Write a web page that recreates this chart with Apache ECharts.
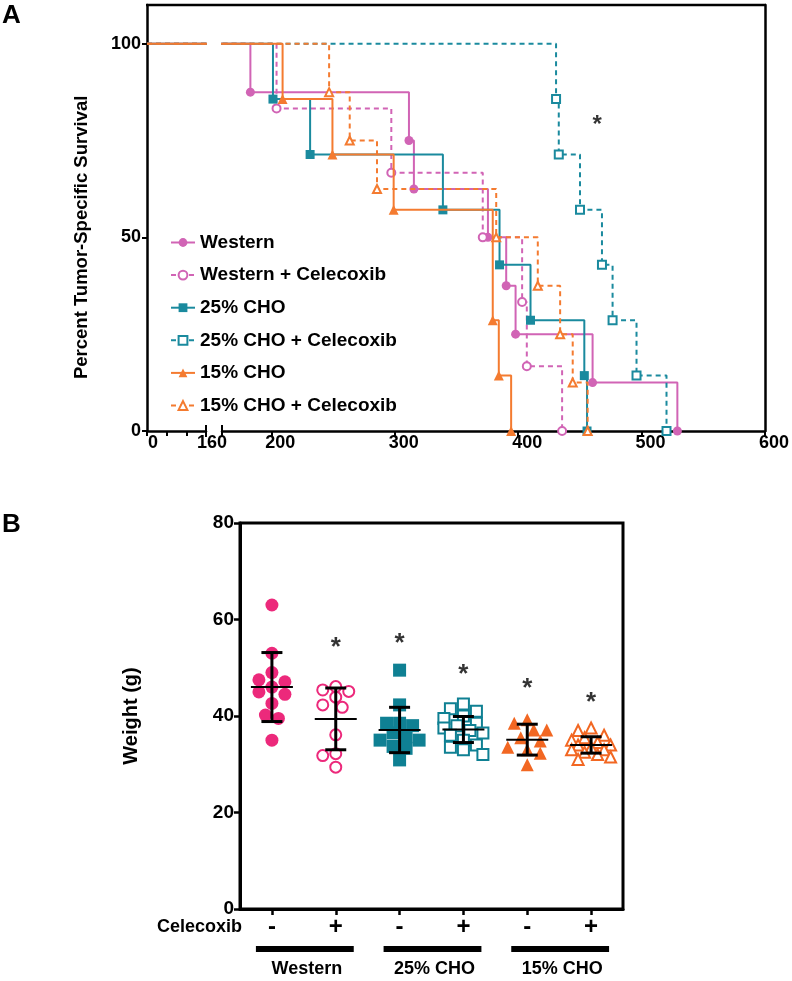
<!DOCTYPE html>
<html><head><meta charset="utf-8">
<script src="https://cdn.jsdelivr.net/npm/echarts@6/dist/echarts.min.js"></script>
<style>html,body{margin:0;padding:0;background:#fff}#c{width:792px;height:981px}</style>
</head><body><div id="c"></div><script>
// ---------- Panel A data (Kaplan-Meier) ----------
const kmNames = ['Western', 'Western + Celecoxib', '25% CHO', '25% CHO + Celecoxib', '15% CHO', '15% CHO + Celecoxib'];
const westernTimes = [183, 311.5, 315.5, 375.5, 390.3, 397.9, 460.3, 529];
const westernSurv = [87.5, 75, 62.5, 50, 37.5, 25, 12.5, 0];
const westernCelTimes = [204.2, 297.2, 371.3, 403.2, 407, 435.6];
const westernCelSurv = [83.3, 66.7, 50, 33.3, 16.7, 0];
const cho25Times = [201.3, 231.4, 339, 384.9, 410, 453.6, 455.8];
const cho25Surv = [85.7, 71.4, 57.1, 42.9, 28.6, 14.3, 0];
const cho25CelTimes = [430.7, 432.9, 450.1, 467.9, 476.5, 495.9, 520.2];
const cho25CelSurv = [85.7, 71.4, 57.1, 42.9, 28.6, 14.3, 0];
const cho15Times = [209.1, 249.5, 299.1, 379.4, 384.3, 394.3];
const cho15Surv = [85.7, 71.4, 57.1, 28.6, 14.3, 0];
const cho15CelTimes = [246.8, 263.5, 285.6, 382.2, 415.9, 434, 444.2, 456.3];
const cho15CelSurv = [87.5, 75, 62.5, 50, 37.5, 25, 12.5, 0];
const kmStart = [0, 100];
const axisATicksLeft = [0, 160 / 3, 320 / 3];
const axisALabelsLeft = [0, 160];
const axisATicksRight = [200, 300, 400, 500, 600];
const axisAYTicks = [0, 50, 100];
const starA = [[464, 79]];

// ---------- Panel B data (weights) ----------
const weightGroups = ['Western -', 'Western +', '25% CHO -', '25% CHO +', '15% CHO -', '15% CHO +'];
const celecoxibLabels = ['-', '+', '-', '+', '-', '+'];
const dietGroups = ['Western', '25% CHO', '15% CHO'];
const wWestern = [63, 53, 49, 47.5, 47.1, 46, 45, 44.5, 42.6, 40.2, 39.5, 35];
const wWesternCel = [45.4, 46.1, 45.1, 43.9, 42.3, 41.8, 36.1, 32.2, 31.8, 29.4];
const wCho25 = [49.5, 42.3, 38, 38.5, 38.5, 36.5, 35, 35.7, 35, 33.7, 33.3, 30.9];
const wCho25Cel = [42.5, 41.5, 41, 40, 39.5, 38.5, 38, 37.5, 37, 36.5, 36, 35, 34, 33.5, 33, 32];
const wCho15 = [39.2, 38.5, 37.1, 37.1, 35.5, 34.8, 33.5, 33, 32.3, 29.9];
const wCho15Cel = [37.5, 37, 36, 35.5, 35, 34.5, 34, 34, 33.5, 33, 33, 32.5, 32, 31.5, 31];
const meanW = [46.0, 39.4, 37.1, 37.2, 35.1, 34.0];
const sdW = [7.15, 6.4, 4.7, 2.7, 3.2, 1.7];
const starB = [null, 54.2, 55.0, 48.5, 45.7, 42.7];

const FF = 'Liberation Sans, Arial, Helvetica, sans-serif';
const A_PINK = '#D164B5', A_TEAL = '#1A8A9E', A_ORANGE = '#F47B30';
const B_PINK = '#EC297B', B_TEAL = '#0F8093', B_ORANGE = '#F26722';

const kmDefs = [
  {t: westernTimes, s: westernSurv, color: A_PINK, symbol: 'circle', dash: false},
  {t: westernCelTimes, s: westernCelSurv, color: A_PINK, symbol: 'emptyCircle', dash: true},
  {t: cho25Times, s: cho25Surv, color: A_TEAL, symbol: 'rect', dash: false},
  {t: cho25CelTimes, s: cho25CelSurv, color: A_TEAL, symbol: 'emptyRect', dash: true},
  {t: cho15Times, s: cho15Surv, color: A_ORANGE, symbol: 'triangle', dash: false},
  {t: cho15CelTimes, s: cho15CelSurv, color: A_ORANGE, symbol: 'emptyTriangle', dash: true}
];
const drawOrder = [0, 1, 2, 3, 5, 4];

function kmData(d) {
  return [{value: kmStart.slice(), symbol: 'none'}].concat(d.t.map((x, i) => ({value: [x, d.s[i]]})));
}

const series = [];
[0, 1].forEach(g => {
  drawOrder.forEach((k, zi) => {
    const d = kmDefs[k];
    series.push({
      type: 'line', name: kmNames[k], xAxisIndex: g, yAxisIndex: g,
      data: kmData(d), step: 'end', symbol: d.symbol,
      symbolSize: d.symbol.indexOf('empty') === 0 ? 8 : (d.symbol === 'triangle' ? 10 : 9),
      showSymbol: true, clip: true, z: 2 + zi,
      lineStyle: {color: d.color, width: 2, type: d.dash ? [5, 4] : 'solid'},
      itemStyle: {color: d.color, borderColor: d.color, borderWidth: d.symbol.indexOf('empty') === 0 ? 2 : 0},
      emphasis: {disabled: true}
    });
  });
});
series.push({
  type: 'scatter', xAxisIndex: 1, yAxisIndex: 1, data: starA, symbolSize: 1,
  itemStyle: {color: 'rgba(0,0,0,0)'},
  label: {show: true, position: 'inside', formatter: '*', fontSize: 24, fontWeight: 'bold', color: '#000', fontFamily: FF}
});

const bDefs = [
  {v: wWestern, color: B_PINK, symbol: 'circle'},
  {v: wWesternCel, color: B_PINK, symbol: 'emptyCircle'},
  {v: wCho25, color: B_TEAL, symbol: 'rect'},
  {v: wCho25Cel, color: B_TEAL, symbol: 'emptyRect'},
  {v: wCho15, color: B_ORANGE, symbol: 'triangle'},
  {v: wCho15Cel, color: B_ORANGE, symbol: 'emptyTriangle'}
];
const bSeriesStart = series.length;
bDefs.forEach((d, i) => {
  const empty = d.symbol.indexOf('empty') === 0;
  series.push({
    type: 'scatter', xAxisIndex: 2, yAxisIndex: 2,
    data: d.v.map(v => ({value: [i, v]})),
    symbol: d.symbol, symbolSize: empty ? 11 : 13,
    itemStyle: {color: d.color, borderColor: d.color, borderWidth: empty ? 2.5 : 0, opacity: 1},
    z: 3
  });
});
series.push({
  type: 'custom', xAxisIndex: 2, yAxisIndex: 2, z: 10,
  data: meanW.map((m, i) => [i, m, sdW[i]]),
  renderItem: function (params, api) {
    const i = api.value(0), m = api.value(1), s = api.value(2);
    const c = api.coord([i, m]), hi = api.coord([i, m + s]), lo = api.coord([i, m - s]);
    const st = {stroke: '#000', lineWidth: 3};
    return {type: 'group', children: [
      {type: 'line', shape: {x1: c[0] - 21, y1: c[1], x2: c[0] + 21, y2: c[1]}, style: {stroke: '#000', lineWidth: 2}},
      {type: 'line', shape: {x1: c[0], y1: hi[1], x2: c[0], y2: lo[1]}, style: st},
      {type: 'line', shape: {x1: c[0] - 10.5, y1: hi[1], x2: c[0] + 10.5, y2: hi[1]}, style: st},
      {type: 'line', shape: {x1: c[0] - 10.5, y1: lo[1], x2: c[0] + 10.5, y2: lo[1]}, style: st}
    ]};
  }
});
series.push({
  type: 'scatter', xAxisIndex: 2, yAxisIndex: 2, z: 11,
  data: starB.map((v, i) => v == null ? null : [i, v]).filter(x => x),
  symbolSize: 1, itemStyle: {color: 'rgba(0,0,0,0)'},
  label: {show: true, position: 'inside', formatter: '*', fontSize: 26, fontWeight: 'bold', color: '#000', fontFamily: FF}
});

const lblStyle = {fontFamily: FF, fontWeight: 'bold', color: '#000', fontSize: 18};
const option = {
  animation: false,
  backgroundColor: '#fff',
  textStyle: {fontFamily: FF},
  legend: {
    orient: 'vertical', left: 165, top: 227, itemWidth: 24, itemHeight: 11, itemGap: 11.6,
    data: kmNames, selectedMode: false,
    textStyle: {fontFamily: FF, fontWeight: 'bold', fontSize: 19, color: '#000', lineHeight: 21}
  },
  grid: [
    {left: 147, top: 5, width: 59, height: 426},
    {left: 222, top: 5, width: 544, height: 426},
    {left: 240, top: 523, width: 383, height: 386, show: true, borderColor: '#000', borderWidth: 3}
  ],
  xAxis: [
    {gridIndex: 0, type: 'value', min: 0, max: 160,
      axisLine: {show: true, onZero: false, lineStyle: {color: '#000', width: 2.5}},
      axisTick: {show: true, length: 5, lineStyle: {color: '#000', width: 2}, customValues: axisATicksLeft},
      axisLabel: Object.assign({customValues: axisALabelsLeft, margin: 3, padding: [0, 0, 0, 12]}, lblStyle),
      splitLine: {show: false}},
    {gridIndex: 1, type: 'value', min: 160, max: 600,
      axisLine: {show: true, onZero: false, lineStyle: {color: '#000', width: 2.5}},
      axisTick: {show: true, length: 5, lineStyle: {color: '#000', width: 2}, customValues: axisATicksRight},
      axisLabel: Object.assign({customValues: axisATicksRight, margin: 3, padding: [0, 0, 0, 18]}, lblStyle),
      splitLine: {show: false}},
    {gridIndex: 2, type: 'category', data: weightGroups, boundaryGap: true,
      axisLine: {show: true, lineStyle: {color: '#000', width: 3}},
      axisTick: {show: true, alignWithLabel: true, length: 6, lineStyle: {color: '#000', width: 2.5}},
      axisLabel: Object.assign({}, lblStyle, {fontSize: 24, margin: 6, formatter: (v, i) => celecoxibLabels[i]}),
      splitLine: {show: false}}
  ],
  yAxis: [
    {gridIndex: 0, type: 'value', min: 0, max: 110,
      axisLine: {show: true, onZero: false, lineStyle: {color: '#000', width: 2.5}},
      axisTick: {show: true, length: 5, lineStyle: {color: '#000', width: 2}, customValues: axisAYTicks},
      axisLabel: Object.assign({customValues: axisAYTicks, margin: 6}, lblStyle),
      splitLine: {show: false}},
    {gridIndex: 1, type: 'value', min: 0, max: 110, position: 'right',
      axisLine: {show: true, onZero: false, lineStyle: {color: '#000', width: 2.5}},
      axisTick: {show: false}, axisLabel: {show: false}, splitLine: {show: false}},
    {gridIndex: 2, type: 'value', min: 0, max: 80, interval: 20,
      axisLine: {show: true, lineStyle: {color: '#000', width: 3}},
      axisTick: {show: true, length: 6, lineStyle: {color: '#000', width: 2.5}},
      axisLabel: Object.assign({}, lblStyle, {fontSize: 19, margin: 6}),
      splitLine: {show: false}}
  ],
  series: series
};

const chart = echarts.init(document.getElementById('c'), null, {renderer: 'canvas'});
chart.setOption(option);

// beeswarm offsets in pixel space
function swarm(gi, vals, size) {
  const pts = vals.map((v, k) => ({k: k, y: chart.convertToPixel({xAxisIndex: 2, yAxisIndex: 2}, [gi, v])[1]}));
  pts.sort((a, b) => a.y - b.y);
  const placed = [], off = new Array(vals.length).fill(0);
  const cands = [0, -6.5, 6.5, -13, 13, -19.5, 19.5];
  pts.forEach(p => {
    let best = 0, bestD = -1;
    for (const dx of cands) {
      let md = Infinity;
      for (const q of placed) { const d = Math.hypot(dx - q.dx, p.y - q.y); if (d < md) md = d; }
      if (md >= size) { best = dx; break; }
      if (md > bestD) { bestD = md; best = dx; }
    }
    placed.push({dx: best, y: p.y});
    off[p.k] = best;
  });
  return off;
}
const seriesUpd = [];
for (let i = 0; i < series.length; i++) seriesUpd.push({});
bDefs.forEach((d, i) => {
  const off = swarm(i, d.v, 12);
  seriesUpd[bSeriesStart + i] = {data: d.v.map((v, k) => ({value: [i, v], symbolOffset: [off[k], 0]}))};
});

const pA1 = v => chart.convertToPixel({xAxisIndex: 0, yAxisIndex: 0}, v);
const pA2 = v => chart.convertToPixel({xAxisIndex: 1, yAxisIndex: 1}, v);
const pB = v => chart.convertToPixel({xAxisIndex: 2, yAxisIndex: 2}, v);
const tl = pA1([0, 110]), tr = pA2([600, 110]);
const brk1 = pA1([160, 0]), brk2 = pA2([160, 0]);
const gfx = [
  {type: 'text', left: 2, top: 3, style: {text: 'A', fontFamily: FF, fontWeight: 'bold', fontSize: 26, fill: '#000'}},
  {type: 'text', left: 2, top: 512, style: {text: 'B', fontFamily: FF, fontWeight: 'bold', fontSize: 26, fill: '#000'}},
  {type: 'line', shape: {x1: tl[0] - 1, y1: tl[1], x2: tr[0] + 1, y2: tr[1]}, style: {stroke: '#000', lineWidth: 2.5}},
  {type: 'line', shape: {x1: brk1[0], y1: brk1[1] - 6, x2: brk1[0], y2: brk1[1] + 6}, style: {stroke: '#000', lineWidth: 2}},
  {type: 'line', shape: {x1: brk2[0], y1: brk2[1] - 6, x2: brk2[0], y2: brk2[1] + 6}, style: {stroke: '#000', lineWidth: 2}},
  {type: 'text', x: 82, y: pA1([0, 50])[1], rotation: Math.PI / 2,
    style: {text: 'Percent Tumor-Specific Survival', fontFamily: FF, fontWeight: 'bold', fontSize: 18.5, fill: '#000', align: 'center', verticalAlign: 'middle'}},
  {type: 'text', x: 131, y: pB([0, 40])[1], rotation: Math.PI / 2,
    style: {text: 'Weight (g)', fontFamily: FF, fontWeight: 'bold', fontSize: 20, fill: '#000', align: 'center', verticalAlign: 'middle'}},
  {type: 'text', x: 242, y: pB([0, 0])[1] + 18,
    style: {text: 'Celecoxib', fontFamily: FF, fontWeight: 'bold', fontSize: 18, fill: '#000', align: 'right', verticalAlign: 'middle'}}
];
dietGroups.forEach((g, j) => {
  const a = pB([2 * j, 0]), b = pB([2 * j + 1, 0]);
  const x1 = a[0] - 16, x2 = b[0] + 18;
  gfx.push({type: 'rect', shape: {x: x1, y: a[1] + 37, width: x2 - x1, height: 6}, style: {fill: '#000'}});
  gfx.push({type: 'text', x: (x1 + x2) / 2 + 2, y: a[1] + 60,
    style: {text: g, fontFamily: FF, fontWeight: 'bold', fontSize: 18, fill: '#000', align: 'center', verticalAlign: 'middle'}});
});
chart.setOption({graphic: gfx, series: seriesUpd});
</script></body></html>
